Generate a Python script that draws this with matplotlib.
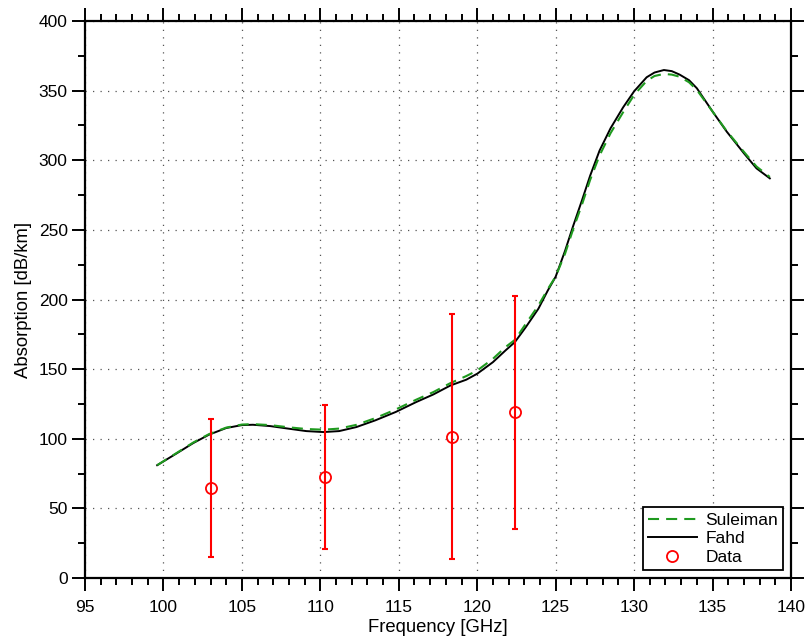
import matplotlib
matplotlib.use("Agg")
import matplotlib.pyplot as plt
from matplotlib.ticker import MultipleLocator

plt.rcParams['font.family'] = ['Liberation Sans', 'DejaVu Sans']

freq = [99.6, 100.8, 101.9, 102.9, 104.0, 105.0, 105.7, 106.8, 108.0, 109.1, 110.2,
        111.2, 112.3, 113.5, 114.8, 116.1, 117.2, 118.3, 119.3, 120.0, 121.0, 121.8,
        122.4, 123.1, 123.9, 124.5, 125.0, 125.6, 126.1, 126.7, 127.2, 127.8, 128.5,
        129.3, 130.0, 130.8, 131.3, 131.9, 132.4, 132.9, 133.5, 134.0, 135.0, 135.9,
        137.0, 137.8, 138.65]
fahd = [81, 89.2, 96.9, 102.9, 107.7, 109.8, 110.05, 109.1, 107.2, 105.5, 104.8,
        105.5, 108.4, 113.2, 119.2, 126.3, 131.8, 138.3, 142.4, 146.7, 155, 163.4,
        169.4, 180.2, 193.4, 206.5, 216.4, 235, 252.3, 272, 289, 307, 323,
        338, 349.5, 359.6, 363, 364.8, 364, 361.5, 357.5, 351.7, 335, 320.6,
        305, 294.2, 287]
suleiman = [81, 89.5, 97.3, 103.3, 108, 110.2, 110.5, 109.8, 108.2, 107, 106.5,
            107.3, 110, 114.8, 121, 128, 133.5, 140, 145, 149, 157.4, 165.8,
            171, 182.6, 195.7, 207.5, 216.5, 233, 250, 269, 286, 303.5, 319.5,
            334.5, 346.9, 357, 360.5, 362, 361.5, 360, 356, 350.5, 335, 321,
            306, 295.5, 288]

data_x = [103.0, 110.3, 118.4, 122.4]
data_y = [64.5, 72.5, 101.5, 119]
err_lo = [15, 21, 14, 35]
err_hi = [114, 124, 189.5, 202.5]

fig = plt.figure(figsize=(8.09, 6.41), dpi=100)
ax = fig.add_axes([85/809, 1 - 578/641, (791-85)/809, (578-21)/641])

ax.plot(freq, suleiman, '--', color='#1f9a1f', lw=1.5, dashes=(5.3, 3.4), label='Suleiman', zorder=3)
ax.plot(freq, fahd, '-', color='black', lw=1.4, label='Fahd', zorder=2)
yerr = [[y - lo for y, lo in zip(data_y, err_lo)], [hi - y for y, hi in zip(data_y, err_hi)]]
ax.errorbar(data_x, data_y, yerr=yerr, fmt='none', ecolor='red', elinewidth=1.5,
            capsize=2.5, capthick=1.5, zorder=4)
ax.plot(data_x, data_y, 'o', mfc='none', mec='red', ms=8, mew=1.3, ls='none',
        label='Data', zorder=5)

ax.set_xlim(95, 140)
ax.set_ylim(0, 400)
ax.xaxis.set_major_locator(MultipleLocator(5))
ax.xaxis.set_minor_locator(MultipleLocator(1))
ax.yaxis.set_major_locator(MultipleLocator(50))
ax.yaxis.set_minor_locator(MultipleLocator(25))
ax.tick_params(which='both', direction='out', top=True, right=True,
               labeltop=False, labelright=False, width=1.4, labelsize=12.5)
ax.tick_params(which='major', length=9.5)
ax.tick_params(which='minor', length=5)
ax.tick_params(axis='x', which='major', pad=6)
ax.tick_params(axis='y', which='major', pad=3)
for s in ax.spines.values():
    s.set_linewidth(1.6)
ax.grid(True, which='major', color='#555555', ls=(0, (1, 5)), lw=0.9)

ax.set_xlabel('Frequency [GHz]', fontsize=13.3, labelpad=3)
ax.set_ylabel('Absorption [dB/km]', fontsize=13.3, labelpad=5)

leg = ax.legend(loc='lower right', fontsize=12.5, frameon=True, fancybox=False,
                edgecolor='black', framealpha=1, borderpad=0.3, labelspacing=0.2,
                handlelength=2.8, handletextpad=0.5, borderaxespad=0.45)
leg.get_frame().set_linewidth(1.3)

fig.savefig('out.png', dpi=100)
